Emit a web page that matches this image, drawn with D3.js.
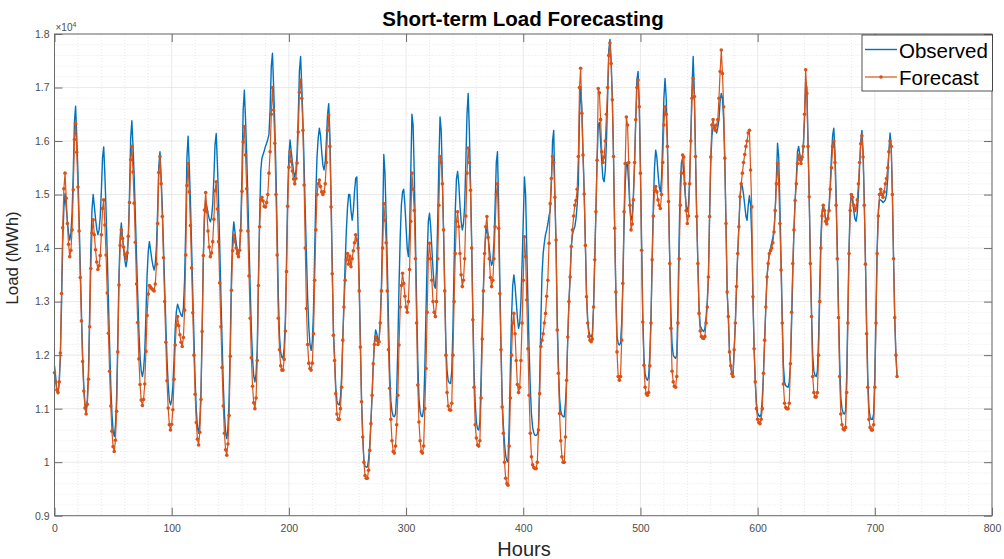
<!DOCTYPE html>
<html><head><meta charset="utf-8">
<script src="https://cdn.jsdelivr.net/npm/d3@7"></script>
<style>
html,body{margin:0;padding:0;background:#fff;}
svg{display:block;font-family:"Liberation Sans",Arial,Helvetica,sans-serif;}
</style></head>
<body><svg id="chart" width="1004" height="559"></svg>
<script>
// Hourly load (MWh), hours 0..719
const observed = [
11800,11600,11350,11280,11470,11950,12960,14090,14760,15020,14760,14500,14280,14150,14280,14650,15400,16350,16650,16080,15400,14550,13640,12790,
11990,11420,11080,10970,11170,11700,12780,13990,14720,15000,14780,14550,14360,14250,14330,14580,15070,15690,15890,15350,14700,13890,13020,12210,
11450,10910,10590,10480,10680,11200,12280,13470,14190,14470,14220,13980,13770,13650,13790,14200,15020,16050,16380,15900,15330,14610,13850,13130,
12460,11980,11700,11600,11730,12050,12730,13490,13940,14120,13960,13800,13670,13590,13700,14030,14700,15530,15800,15330,14760,14050,13290,12580,
11920,11450,11160,11070,11160,11410,11920,12480,12820,12950,12880,12810,12750,12720,12890,13390,14410,15690,16090,15540,14870,14040,13150,12320,
11540,10980,10650,10540,10760,11320,12500,13810,14590,14900,14780,14650,14550,14490,14570,14820,15320,15940,16140,15570,14890,14030,13120,12260,
11470,10900,10550,10440,10640,11170,12260,13480,14210,14490,14300,14100,13940,13840,14000,14460,15400,16580,16950,16410,15750,14930,14060,13240,
12480,11940,11610,11500,11650,12100,13400,14500,15450,15680,15750,15820,15900,15960,16030,16120,16600,17400,17640,17000,16300,15400,14300,13100,
12350,12050,11960,11940,12140,12670,13780,15000,15730,16020,15810,15610,15430,15330,15440,15780,16460,17310,17580,17030,16370,15550,14670,13850,
13080,12530,12200,12090,12250,12800,13900,15000,15700,16050,16240,16100,15800,15550,15460,15600,16000,16500,16700,16100,15000,13700,12500,11950,
11400,11150,11080,11070,11200,11600,12300,13000,13700,14300,14750,15000,15000,14700,14520,14700,15050,15300,15330,14400,13400,12280,11200,10500,
10050,9920,9910,9910,10050,10300,10750,11250,11800,12250,12470,12400,12280,12300,12650,13300,14400,15750,15400,14600,13700,12650,11700,11150,
10950,10860,10850,10900,11300,12200,13300,14200,14800,15050,15100,14800,14400,14000,13840,14300,15400,16500,16300,15400,14200,13000,11900,11200,
10950,10860,10850,11000,11750,12800,13800,14500,14650,14400,14000,13600,13300,13250,13600,14500,15600,16450,16200,15300,14300,13200,12200,11700,
11520,11480,11470,11700,12500,13700,14700,15300,15430,15200,14800,14500,14340,14450,14800,15600,16500,16890,16200,15200,14100,12800,11700,11100,
10750,10620,10600,10750,11560,12500,13280,13900,14250,14370,14250,14000,13800,13680,13750,14100,14800,15600,15800,14800,13400,12200,11200,10700,
10350,10120,10030,10000,10700,11750,12700,13300,13500,13300,13000,12700,12500,12600,13000,13700,14500,15330,15000,14000,13000,12120,11400,10900,
10650,10550,10500,10500,10520,10650,11500,12600,13500,13900,14100,14250,14340,14450,14600,14700,15200,16000,16200,15000,14000,12700,11800,11200,
10950,10880,10850,10850,11100,11530,12340,13000,13460,14030,14250,14340,14400,14550,14800,15200,16500,17020,16600,15800,15050,14100,13150,12650,
12450,12360,12340,12400,12900,13780,14680,15640,16300,16350,16000,15600,15300,15240,15450,16000,16800,17700,17900,17500,16800,15750,14400,13200,
12350,12220,12190,12220,12600,13340,14400,15200,15600,15550,15200,14750,14520,14600,15000,15600,16400,17150,17300,16700,15500,14100,12750,11950,
11650,11560,11530,11600,12000,12700,13780,14800,15500,15830,15700,15400,15150,15050,15300,16000,16800,17170,16800,16000,14900,13800,12800,12200,
12000,11960,11940,12000,12930,14180,15200,15600,15670,15400,15050,14800,14680,14800,15300,16100,17000,17580,16900,15750,14620,13720,12900,12550,
12500,12460,12440,12500,12700,13000,13460,14590,15600,16100,16250,16300,16200,16150,16250,16400,16750,16890,16800,16400,15600,14460,13180,12720,
12060,11800,11650,11630,12100,12600,13280,13900,14400,14960,15200,15150,15000,14800,14600,14520,14800,14980,14800,14200,13090,12120,11500,11100,
10920,10870,10850,10900,11200,11660,12280,12900,13460,13710,13900,14000,14100,14200,14340,14700,15300,15960,15700,14800,13800,12700,11800,11500,
11430,11410,11400,11500,11840,12600,13500,14340,14890,15300,15800,15900,15750,15600,15650,15900,16400,17100,17000,16000,15000,13800,12800,12000,
11700,11620,11600,11700,12300,13300,14200,14700,14800,14700,14550,14500,14600,14800,15200,15700,16100,16240,15800,15000,14000,12900,11900,11200,
11000,10920,10900,10950,11600,12800,14000,14800,15000,14900,14700,14550,14500,14650,15000,15500,16000,16200,15800,14900,13800,12600,11600,11000,
10850,10800,10800,10900,11600,12800,14000,14700,14900,14900,14880,14850,14870,14900,15000,15300,15800,16150,15900,15000,13800,12700,12000,11600
];
const forecast = [
11670,11500,11350,11300,11500,12040,13150,14380,15110,15400,14930,14460,14070,13840,13960,14340,15090,16030,16330,15790,15140,14320,13450,12640,
11880,11330,11010,10900,11080,11550,12530,13620,14280,14530,14250,13970,13740,13600,13670,13860,14250,14740,14900,14430,13870,13160,12410,11700,
11050,10580,10290,10200,10410,10950,12060,13310,14050,14340,14180,14020,13880,13800,13910,14220,14850,15650,15900,15420,14840,14110,13330,12610,
11930,11450,11160,11060,11170,11460,12070,12740,13140,13300,13270,13240,13220,13200,13330,13700,14460,15410,15710,15200,14590,13820,13000,12240,
11520,11010,10700,10600,10710,10980,11550,12190,12570,12720,12550,12380,12240,12160,12330,12840,13870,15170,15580,15050,14420,13630,12790,12000,
11270,10740,10430,10320,10560,11170,12440,13860,14710,15040,14680,14320,14020,13840,13910,14120,14540,15070,15240,14730,14120,13350,12530,11770,
11050,10540,10230,10130,10340,10870,11980,13210,13950,14240,14120,14000,13900,13840,13960,14330,15060,15980,16270,15740,15110,14320,13480,12690,
11950,11420,11110,11000,11200,11900,13300,14400,14900,14950,14880,14780,14770,14850,15000,15400,15800,16500,17000,16580,15960,15000,13870,12690,
12100,11800,11720,11720,11920,12450,13560,14780,15510,15800,15620,15440,15290,15200,15300,15590,16170,16910,17140,16800,16200,15180,14000,12870,
12200,11850,11750,11720,11850,12400,13400,14340,15000,15200,15270,15150,15050,15000,15050,15200,15600,16200,16490,15900,14770,13520,12370,11900,
11280,10900,10800,10800,11000,11400,12280,12900,13400,13780,13900,13700,13850,13650,13800,13950,14100,14250,14150,14000,13200,12150,11130,10470,
10000,9750,9700,9700,9850,10220,10720,11250,11840,12200,12340,12280,12200,12250,12600,13200,14000,14830,14520,14100,13200,12100,11380,10800,
10400,10200,10170,10300,10700,11250,12190,12900,13300,13530,13340,13100,12900,12800,13000,13600,14500,15400,15100,14700,13800,12600,11440,10750,
10400,10200,10170,10300,11000,11750,12800,13800,14090,13800,13400,13000,12800,12720,13000,13800,14800,15710,15600,15200,14340,13200,12000,11300,
11050,10980,10970,11100,12000,13000,13900,14500,14680,14400,13900,13500,13280,13400,13800,14600,15400,15870,15600,15080,14000,12660,11400,10700,
10450,10320,10300,10400,11200,12300,13200,13900,14400,14590,14200,13800,13450,13280,13400,13800,14400,15000,15200,14370,13150,12100,11030,10540,
10000,9700,9600,9570,10300,11200,12000,12600,12780,12400,11900,11450,11300,11400,11900,12600,13400,14210,13840,13030,12120,11250,10540,10100,
9950,9900,9880,9880,10000,10600,11280,12160,12280,12400,12600,12780,13100,13400,14090,14830,15300,15710,15600,14950,14150,12470,11660,10910,
10400,10100,10000,10000,10470,11530,12340,13000,13460,14030,14340,14600,14800,14890,15100,15710,17000,17360,16520,15740,15010,14050,13090,12600,
12350,12280,12250,12300,12900,13780,14680,15640,16980,16900,16400,15800,15600,15700,16000,16500,17000,17600,17830,17450,16770,15710,14370,13180,
12060,11600,11530,11600,12280,13340,14680,15580,16450,16300,15600,14800,14340,14450,14900,15600,16400,17000,17140,16640,15400,13960,12620,11810,
11400,11280,11250,11300,11800,12600,13780,14600,15080,15150,15050,14900,14800,14740,15000,15600,16300,16640,16500,15900,14870,13710,12500,11700,
11500,11420,11400,11600,12600,13800,14800,15400,15740,15700,15200,14700,14460,14600,15200,16000,16800,17170,16830,15710,14590,13710,12780,12450,
12350,12320,12310,12350,12600,12900,13460,14590,15700,16300,16400,16250,16200,16300,16400,16800,17300,17700,17260,16640,15680,14460,13180,12720,
12060,11800,11650,11600,12100,12600,13280,13900,14400,14960,15200,15400,15600,15750,15900,16000,16150,16200,15460,14770,13090,12120,11500,11000,
10800,10740,10720,10800,11000,11660,12280,12900,13460,13710,13900,13950,14000,14100,14300,14700,15200,15580,15200,14460,13590,12600,11460,11100,
11020,11000,11000,11100,11840,12800,13710,14340,14890,15200,15580,15740,15650,15580,15700,15900,16500,17330,16890,15900,14960,13710,12720,11600,
11300,11220,11220,11300,12000,13000,14000,14600,14800,14700,14500,14450,14550,14700,15100,15500,15900,16000,15600,14800,13800,12700,11600,10900,
10700,10620,10600,10650,11300,12600,13900,14700,15000,14950,14800,14700,14750,14900,15200,15600,15950,16100,15700,14800,13700,12400,11400,10800,
10650,10600,10600,10700,11400,12600,13900,14600,15000,15100,15000,14950,15050,15200,15300,15500,15800,16000,15900,15000,13800,12700,12000,11600
];
const hours = d3.range(observed.length);
const xTickValues = [0,100,200,300,400,500,600,700,800];
const yTickValues = [9000,10000,11000,12000,13000,14000,15000,16000,17000,18000];
const seriesNames = ["Observed","Forecast"];
const seriesColors = ["#0072BD","#D95319"];

const svg = d3.select("#chart");
const L = 54.5, R = 992, T = 34, B = 515.7;
const x = d3.scaleLinear().domain([0,800]).range([L,R]);
const y = d3.scaleLinear().domain([9000,18000]).range([B,T]);

// minor grid
const g = svg.append("g");
const minorX = d3.range(0,801,20).filter(v => v % 100 !== 0);
const minorY = d3.range(9000,18001,200).filter(v => v % 1000 !== 0);
g.selectAll(".mx").data(minorX).enter().append("line")
  .attr("x1", d=>x(d)).attr("x2", d=>x(d)).attr("y1",T).attr("y2",B)
  .attr("stroke","#d6d6d6").attr("stroke-width",0.6).attr("stroke-dasharray","1,2");
g.selectAll(".my").data(minorY).enter().append("line")
  .attr("y1", d=>y(d)).attr("y2", d=>y(d)).attr("x1",L).attr("x2",R)
  .attr("stroke","#d6d6d6").attr("stroke-width",0.6).attr("stroke-dasharray","1,2");
// major grid
g.selectAll(".gx").data(xTickValues).enter().append("line")
  .attr("x1", d=>x(d)).attr("x2", d=>x(d)).attr("y1",T).attr("y2",B)
  .attr("stroke","#e3e3e3").attr("stroke-width",0.8);
g.selectAll(".gy").data(yTickValues).enter().append("line")
  .attr("y1", d=>y(d)).attr("y2", d=>y(d)).attr("x1",L).attr("x2",R)
  .attr("stroke","#e3e3e3").attr("stroke-width",0.8);

// lines
const lineGen = arr => d3.line().x((d,i)=>x(hours[i])).y(d=>y(d))(arr);
svg.append("path").attr("d", lineGen(observed)).attr("fill","none")
  .attr("stroke",seriesColors[0]).attr("stroke-width",1.4).attr("stroke-linejoin","round");
svg.append("path").attr("d", lineGen(forecast)).attr("fill","none")
  .attr("stroke",seriesColors[1]).attr("stroke-width",1.2).attr("stroke-linejoin","round");
svg.append("g").selectAll("circle").data(forecast).enter().append("circle")
  .attr("cx",(d,i)=>x(hours[i])).attr("cy",d=>y(d)).attr("r",1.8).attr("fill",seriesColors[1]);

// axes (box + inward ticks)
const axisColor = "#6b6b6b";
const fmtY = d => d3.format("~g")(d/10000);
const xb = d3.axisBottom(x).tickValues(xTickValues).tickSize(-8).tickPadding(9).tickFormat(d3.format("d"));
const xt = d3.axisTop(x).tickValues(xTickValues).tickSize(-8).tickFormat("");
const yl = d3.axisLeft(y).tickValues(yTickValues).tickSize(-8).tickPadding(5).tickFormat(fmtY);
const yr = d3.axisRight(y).tickValues(yTickValues).tickSize(-8).tickFormat("");
function styleAxis(sel){
  sel.select(".domain").remove();
  sel.selectAll("line").attr("stroke",axisColor).attr("stroke-width",1);
  sel.selectAll("text").attr("fill","#4d4d4d").style("font-size","10.5px")
     .style("font-family","'Liberation Sans',Arial,sans-serif");
}
svg.append("g").attr("transform",`translate(0,${B})`).call(xb).call(styleAxis);
svg.append("g").attr("transform",`translate(0,${T})`).call(xt).call(styleAxis);
svg.append("g").attr("transform",`translate(${L},0)`).call(yl).call(styleAxis);
svg.append("g").attr("transform",`translate(${R},0)`).call(yr).call(styleAxis);
svg.append("rect").attr("x",L).attr("y",T).attr("width",R-L).attr("height",B-T)
  .attr("fill","none").attr("stroke",axisColor).attr("stroke-width",1);

// exponent label
const ex = svg.append("text").attr("x",L+1).attr("y",T-3).attr("fill","#4d4d4d").style("font-size","10px");
ex.append("tspan").text("\u00d710");
ex.append("tspan").attr("dy",-4).style("font-size","7px").text("4");

// title and axis labels
svg.append("text").attr("x",523).attr("y",26).attr("text-anchor","middle")
  .style("font-size","20.5px").style("font-weight","bold").attr("fill","#000").text("Short-term Load Forecasting");
svg.append("text").attr("x",524).attr("y",556).attr("text-anchor","middle")
  .style("font-size","20px").attr("fill","#262626").text("Hours");
svg.append("text").attr("transform","translate(18,258) rotate(-90)").attr("text-anchor","middle")
  .style("font-size","17px").attr("fill","#262626").text("Load (MWh)");

// legend
const lg = svg.append("g");
lg.append("rect").attr("x",862).attr("y",35).attr("width",130.5).attr("height",56)
  .attr("fill","#fff").attr("stroke","#262626").attr("stroke-width",0.8);
seriesNames.forEach((name,i)=>{
  const yy = 49.5 + i*27.5;
  lg.append("line").attr("x1",865).attr("x2",897).attr("y1",yy).attr("y2",yy)
    .attr("stroke",seriesColors[i]).attr("stroke-width",i?1.2:1.4);
  if(i===1) lg.append("circle").attr("cx",881).attr("cy",yy).attr("r",1.8).attr("fill",seriesColors[i]);
  lg.append("text").attr("x",899).attr("y",yy+8).style("font-size","20.5px").attr("fill","#000").text(name);
});
</script></body></html>
